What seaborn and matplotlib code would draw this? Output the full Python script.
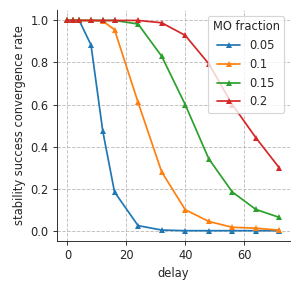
import matplotlib
matplotlib.use("Agg")
import matplotlib.pyplot as plt
import seaborn as sns
import pandas as pd

delay = [0, 2, 4, 8, 12, 16, 24, 32, 40, 48, 56, 64, 72]
fractions = ["0.05", "0.1", "0.15", "0.2"]
rate_005 = [1, 1, 1, 0.884, 0.474, 0.184, 0.024, 0.003, 0, 0, 0, 0, 0]
rate_01 = [1, 1, 1, 1, 0.997, 0.956, 0.61, 0.28, 0.1, 0.044, 0.016, 0.012, 0.002]
rate_015 = [1, 1, 1, 1, 1, 1, 0.983, 0.83, 0.6, 0.342, 0.184, 0.101, 0.063]
rate_02 = [1, 1, 1, 1, 1, 1, 1, 0.989, 0.929, 0.794, 0.6, 0.442, 0.298]

rows = []
for f, vals in zip(fractions, [rate_005, rate_01, rate_015, rate_02]):
    for d, v in zip(delay, vals):
        rows.append({"delay": d, "rate": v, "MO fraction": f})
df = pd.DataFrame(rows)

sns.set_style("ticks")
plt.rcParams['font.family'] = ['DejaVu Sans']
plt.rcParams['font.size'] = 10
DPI = 83
fig, ax = plt.subplots(figsize=(299 / DPI, 292 / DPI), dpi=DPI)
sns.lineplot(data=df, x="delay", y="rate", hue="MO fraction", palette="tab10",
             marker="^", markersize=6, markeredgewidth=0, linewidth=1.5, ax=ax)
ax.grid(True, linestyle="--", color="#b0b0b0", linewidth=0.8, alpha=0.8)
sns.despine(ax=ax)
ax.set_xlabel("delay", fontsize=10)
ax.set_ylabel("stability success convergence rate", fontsize=10)
ax.tick_params(labelsize=10, length=3.5, width=0.8)
ax.set_ylim(-0.05, 1.05)
ax.set_xticks([0, 20, 40, 60])
ax.set_yticks([0, 0.2, 0.4, 0.6, 0.8, 1.0])
leg = ax.legend(title="MO fraction", fontsize=10, title_fontsize=10, loc="upper right")
fig.subplots_adjust(left=0.19, right=0.97, top=0.966, bottom=0.174)
fig.savefig("out.png", dpi=DPI)
